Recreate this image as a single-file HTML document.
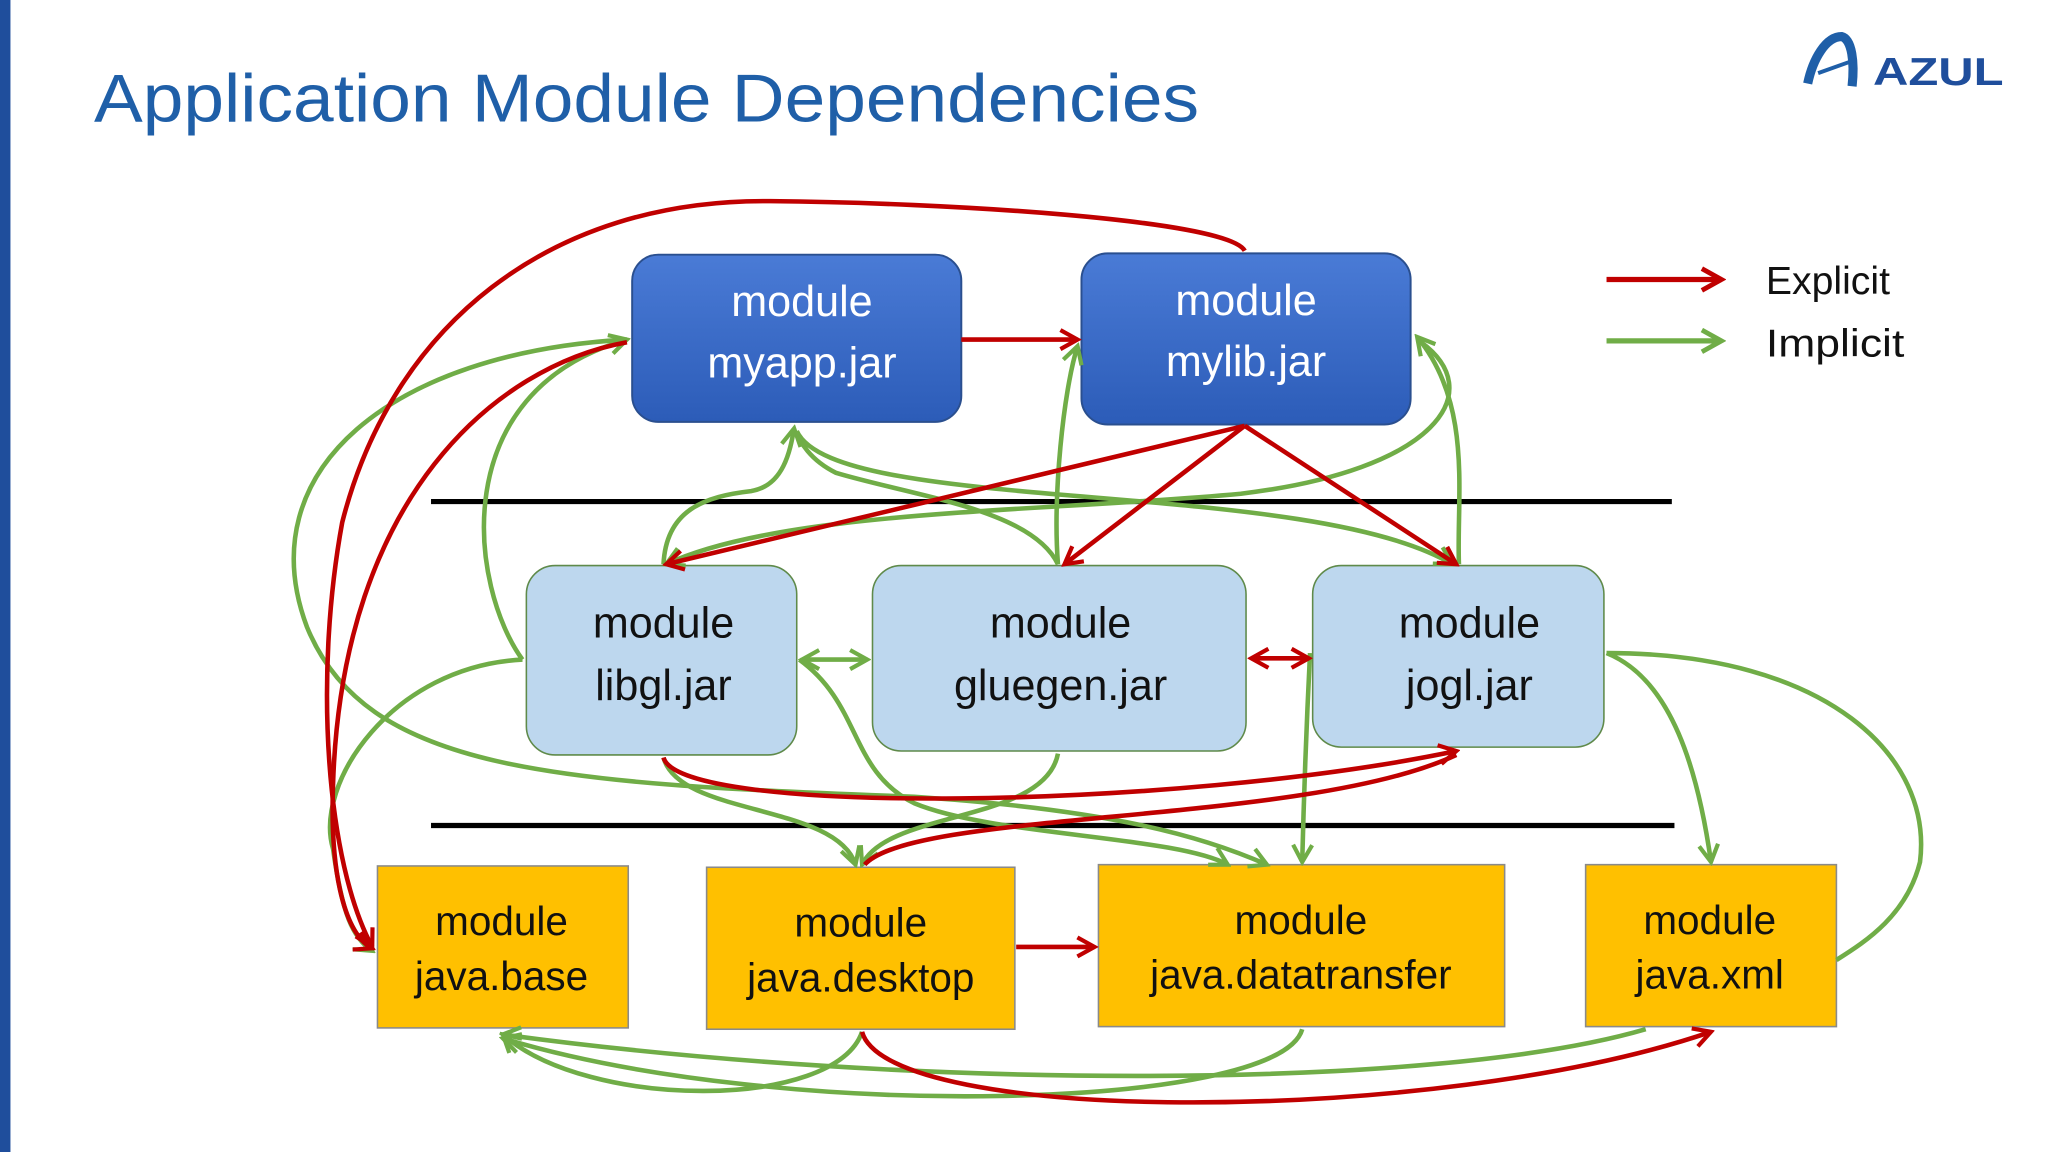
<!DOCTYPE html>
<html><head><meta charset="utf-8"><style>
html,body{margin:0;padding:0;background:#fff;}
svg{display:block;}
text{font-family:"Liberation Sans",sans-serif;}
</style></head><body>
<svg width="2048" height="1152" viewBox="0 0 1568 882" xmlns="http://www.w3.org/2000/svg">
<defs>
<linearGradient id="bg1" x1="0" y1="0" x2="0" y2="1"><stop offset="0" stop-color="#4a7bd6"/><stop offset="1" stop-color="#2c5cb8"/></linearGradient>
<marker id="ar" viewBox="0 0 12 12" refX="10" refY="6" markerWidth="5" markerHeight="5" orient="auto-start-reverse" markerUnits="strokeWidth"><path d="M1,1 L10,6 L1,11" fill="none" stroke="#c00000" stroke-width="2.2"/></marker>
<marker id="ag" viewBox="0 0 12 12" refX="10" refY="6" markerWidth="5" markerHeight="5" orient="auto-start-reverse" markerUnits="strokeWidth"><path d="M1,1 L10,6 L1,11" fill="none" stroke="#70ad47" stroke-width="2.2"/></marker>
</defs>
<rect x="0" y="0" width="8" height="882" fill="#1f4e9c"/>
<text x="72" y="93" font-size="52" fill="#1f5fa8" textLength="846" lengthAdjust="spacingAndGlyphs">Application Module Dependencies</text>
<!-- logo -->
<path d="M1384,64 C1388,45 1398,28 1410,28 C1418,30 1420,48 1418,66" fill="none" stroke="#1f5fa8" stroke-width="7"/>
<path d="M1392,56 L1420,46" stroke="#1f5fa8" stroke-width="3"/>
<text x="1434" y="65" font-size="30" font-weight="bold" fill="#1f4e9c" textLength="100" lengthAdjust="spacingAndGlyphs">AZUL</text>
<!-- separators -->
<line x1="330" y1="384" x2="1280" y2="384" stroke="#000" stroke-width="4"/>
<line x1="330" y1="632" x2="1282" y2="632" stroke="#000" stroke-width="4"/>
<!-- legend -->
<line x1="1230" y1="214" x2="1318" y2="214" stroke="#c00000" stroke-width="4" marker-end="url(#ar)"/>
<line x1="1230" y1="261" x2="1318" y2="261" stroke="#70ad47" stroke-width="4" marker-end="url(#ag)"/>
<text x="1352" y="225" font-size="30" fill="#111">Explicit</text>
<text x="1352" y="273" font-size="30" fill="#111" textLength="106" lengthAdjust="spacingAndGlyphs">Implicit</text>
<!-- boxes -->
<g stroke="#2a4f8f" stroke-width="1.5">
<rect x="484" y="195" width="252" height="128" rx="20" fill="url(#bg1)"/>
<rect x="828" y="194" width="252" height="131" rx="20" fill="url(#bg1)"/>
</g>
<g fill="#bdd7ee" stroke="#5f8a4a" stroke-width="1.2">
<rect x="403" y="433" width="207" height="145" rx="22"/>
<rect x="668" y="433" width="286" height="142" rx="22"/>
<rect x="1005" y="433" width="223" height="139" rx="22"/>
</g>
<g fill="#ffc000" stroke="#8a8a8a" stroke-width="1.2">
<rect x="289" y="663" width="192" height="124"/>
<rect x="541" y="664" width="236" height="124"/>
<rect x="841" y="662" width="311" height="124"/>
<rect x="1214" y="662" width="192" height="124"/>
</g>
<g font-size="33" text-anchor="middle" fill="#fff">
<text x="614" y="242">module</text><text x="614" y="289">myapp.jar</text>
<text x="954" y="241">module</text><text x="954" y="288">mylib.jar</text>
</g>
<g font-size="33" text-anchor="middle" fill="#111">
<text x="508" y="488">module</text><text x="508" y="536">libgl.jar</text>
<text x="812" y="488">module</text><text x="812" y="536">gluegen.jar</text>
<text x="1125" y="488">module</text><text x="1125" y="536">jogl.jar</text>
</g>
<g font-size="31" text-anchor="middle" fill="#111">
<text x="384" y="716">module</text><text x="384" y="758">java.base</text>
<text x="659" y="717">module</text><text x="659" y="759">java.desktop</text>
<text x="996" y="715">module</text><text x="996" y="757">java.datatransfer</text>
<text x="1309" y="715">module</text><text x="1309" y="757">java.xml</text>
</g>
<!-- green connectors -->
<g fill="none" stroke="#70ad47" stroke-width="3.5">
<path d="M400,505 C360,450 340,300 480,260" marker-end="url(#ag)"/>
<path d="M508,432 C510,390 540,380 575,376 C600,372 605,345 608,328" marker-end="url(#ag)"/>
<path d="M810,432 C806,380 814,300 825,265" marker-end="url(#ag)"/>
<path d="M810,432 C790,390 700,380 640,362 C620,352 612,338 610,330"/>
<path d="M1117,432 C1115,380 1128,310 1085,258" marker-end="url(#ag)"/>
<path d="M610,330 C640,395 1000,365 1112,432" marker-end="url(#ag)"/>
<path d="M1088,262 C1140,300 1100,360 950,378 C800,392 600,390 510,432" marker-end="url(#ag)"/>
<path d="M614,505 L664,505" marker-start="url(#ag)" marker-end="url(#ag)"/>
<path d="M810,577 C800,630 680,620 660,662" marker-end="url(#ag)"/>
<path d="M508,580 C520,625 640,615 655,662" marker-end="url(#ag)"/>
<path d="M612,505 C660,540 650,590 700,615 C760,640 900,640 940,662" marker-end="url(#ag)"/>
<path d="M480,260 C300,270 190,360 235,480 C280,590 420,600 700,610 C850,620 920,640 970,662" marker-end="url(#ag)"/>
<path d="M400,505 C300,510 240,600 255,650 C262,700 270,718 285,728" marker-end="url(#ag)"/>
<path d="M1003,500 C1000,560 998,620 997,660" marker-end="url(#ag)"/>
<path d="M1230,500 C1280,520 1300,590 1310,660" marker-end="url(#ag)"/>
<path d="M1230,500 C1400,500 1480,580 1470,660 C1460,700 1430,720 1406,735"/>
<path d="M1260,788 C1100,835 700,835 385,792" marker-end="url(#ag)"/>
<path d="M660,790 C640,850 450,850 385,792" marker-end="url(#ag)"/>
<path d="M997,788 C980,850 600,860 385,795" marker-end="url(#ag)"/>
</g>
<!-- red connectors -->
<g fill="none" stroke="#c00000" stroke-width="3.5">
<path d="M736,260 L825,260" marker-end="url(#ar)"/>
<path d="M953,192 C940,168 720,155 590,154 C420,152 300,250 262,400 C240,520 250,660 285,725" marker-end="url(#ar)"/>
<path d="M480,262 C380,280 262,380 255,600 C252,680 268,718 285,726" marker-end="url(#ar)"/>
<path d="M953,326 L510,432" marker-end="url(#ar)"/>
<path d="M953,326 L815,432" marker-end="url(#ar)"/>
<path d="M953,326 L1115,432" marker-end="url(#ar)"/>
<path d="M958,504 L1002,504" marker-start="url(#ar)" marker-end="url(#ar)"/>
<path d="M508,580 C520,625 900,620 1115,575" marker-end="url(#ar)"/>
<path d="M662,662 C700,620 1000,632 1115,578"/>
<path d="M778,725 L838,725" marker-end="url(#ar)"/>
<path d="M660,790 C680,862 1100,862 1310,790" marker-end="url(#ar)"/>
</g>
</svg>
</body></html>
